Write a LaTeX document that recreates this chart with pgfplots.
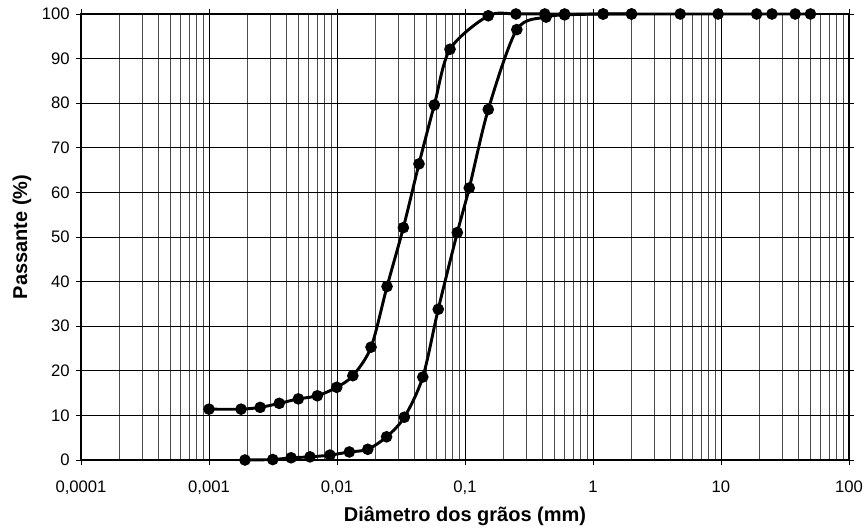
\documentclass[border=0pt]{standalone}
\usepackage{pgfplots}
\pgfplotsset{compat=1.18}
\usepackage{fontspec}
\setmainfont{Liberation Sans}
\begin{document}
\begin{tikzpicture}
\begin{axis}[
  at={(0,0)}, anchor=south west,
  scale only axis, width=576pt, height=334.5pt,
  xmode=log, log basis x=10,
  xmin=0.0001, xmax=100, ymin=0, ymax=100,
  xtick={0.0001,0.001,0.01,0.1,1,10,100},
  xticklabels={{0,0001},{0,001},{0,01},{0,1},1,10,100},
  minor xtick={0.0002,0.0003,0.0004,0.0005,0.0006,0.0007,0.0008,0.0009,
    0.002,0.003,0.004,0.005,0.006,0.007,0.008,0.009,
    0.02,0.03,0.04,0.05,0.06,0.07,0.08,0.09,
    0.2,0.3,0.4,0.5,0.6,0.7,0.8,0.9,
    2,3,4,5,6,7,8,9,20,30,40,50,60,70,80,90},
  ytick={0,10,...,100},
  /pgf/number format/assume math mode=true,
  grid=both,
  major grid style={black, line width=0.6pt},
  minor grid style={black!70, line width=0.5pt},
  axis line style={black, line width=1.3pt},
  tick align=outside,
  major tick length=4pt, minor tick length=0pt,
  tick style={black, line width=0.6pt},
  ticklabel style={font=\fontsize{12.5}{14}\selectfont},
  xticklabel style={yshift=-8pt},
  yticklabel style={xshift=-1pt},
  xlabel={\textbf{Diâmetro dos grãos (mm)}},
  ylabel={\textbf{Passante (\%)}},
  label style={font=\fontsize{15}{17}\selectfont},
  xlabel style={yshift=-2pt},
  ylabel style={yshift=1pt},
  clip=false,
]
\addplot[black, line width=2.2pt, smooth, mark=*, mark size=3.2pt]
coordinates {
(0.001,11.4) (0.00178,11.4) (0.00251,11.8) (0.00354,12.7) (0.00499,13.7)
(0.00702,14.4) (0.00995,16.3) (0.0133,18.9) (0.01845,25.3) (0.0246,38.9)
(0.033,52.1) (0.0437,66.4) (0.0576,79.6) (0.0764,92.1) (0.152,99.6)
(0.25,100) (0.42,100) (0.6,100) (1.2,100) (2,100) (4.8,100) (9.5,100)
(19,100) (25,100) (38,100) (50,100)
};
\addplot[black, line width=2.2pt, smooth, mark=*, mark size=3.2pt]
coordinates {
(0.00191,0) (0.00315,0.1) (0.00438,0.5) (0.00615,0.7) (0.00881,1.1)
(0.01248,1.8) (0.0174,2.4) (0.0244,5.2) (0.0336,9.6) (0.0468,18.6)
(0.0618,33.8) (0.0871,51.0) (0.108,61.0) (0.152,78.6) (0.254,96.5)
(0.43,99.3) (0.6,99.8) (1.2,100) (2,100)
};
\end{axis}
\pgfresetboundingbox
\path (-60.75pt,-52.5pt) rectangle (588.75pt,345pt);
\end{tikzpicture}
\end{document}
